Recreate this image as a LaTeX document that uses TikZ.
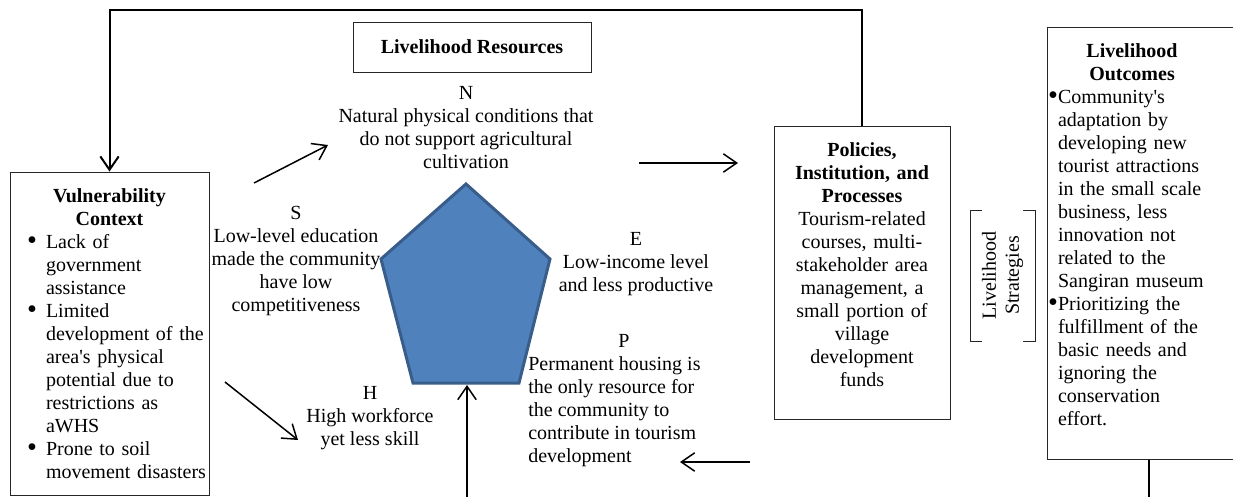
\documentclass[tikz,border=0pt]{standalone}
\usepackage{fontspec}
\setmainfont{Liberation Serif}
\usetikzlibrary{arrows.meta}

\definecolor{pentFill}{RGB}{79,129,189}
\definecolor{pentLine}{RGB}{56,93,138}

\newlength{\itemHang}
\newlength{\itemPos}
\newcommand{\bitem}{\par\noindent\hangindent=\itemHang\hangafter=1%
  \hbox to\itemHang{\hskip\itemPos\raisebox{-0.6pt}{\fontsize{17}{13.8}\selectfont\textbullet}\hss}}
\newcommand{\bottomgap}[1]{\par\vspace*{#1}\nointerlineskip\hbox{}}
\setlength{\parindent}{0pt}

\begin{document}
\begin{tikzpicture}
[x=0.6pt,y=-0.6pt,
  every node/.style={font=\fontsize{12}{13.8}\selectfont,inner sep=0pt},%
  boxDecorate/.style={draw=black!85,line width=0.6pt},%
  textDecorate/.style={align=center},%
  arrowDecorate/.style={-{Straight Barb[length=8pt,width=11pt]},line width=0.9pt},%
  lineDecorate/.style={-,line width=1.2pt},%
  pentDecorate/.style={fill=pentFill,draw=pentLine,line width=1.8pt,line join=miter}]
\useasboundingbox (0,0) rectangle (1233,497);
\clip (0,0) rectangle (1233,497);
%% coordinates for arrows and the pentagon
\foreach \name/\x/\y in {
  sA/254/183, sB/328/145, nA/639/163, nB/738/163,
  vA/225/382, vB/298/440, pA/750/462, pB/680/462,
  hubIn/467/497, pentBot/467/385, loopTop/109.5/10,
  pTop/466/184, pRight/550/259, pBotR/519/383, pBotL/413/383, pLeft/381/259}
{
  \coordinate (\name) at (\x,\y);
}
%% boxes
\node (resources) at (472,47) [boxDecorate,minimum width=142.8pt,minimum height=30pt]
  {\bfseries Livelihood Resources};
\node (vuln) at (109.5,333.5) [boxDecorate,minimum width=119.4pt,minimum height=193.8pt,
  text width=117.6pt,align=left,
  execute at begin node={\setlength{\itemHang}{20.7pt}\setlength{\itemPos}{9.3pt}}]
  {{\centering\bfseries Vulnerability\\Context\par}
   \bitem Lack of\newline government\newline assistance
   \bitem Limited\newline development of the\newline area\textquotesingle s physical\newline
     potential due to\newline restrictions as\newline aWHS
   \bitem Prone to soil\newline movement disasters\par};
\node (policies) at (862,272.5) [boxDecorate,minimum width=105.6pt,minimum height=175.8pt,
  text width=103.2pt,textDecorate]
  {\textbf{Policies,}\\\textbf{Institution, and}\\\textbf{Processes}\\Tourism-related\\
   courses, multi-\\stakeholder area\\management, a\\small portion of\\village\\
   development\\funds\bottomgap{9pt}};
\node (strategies) at (1002.5,275.5) [boxDecorate,minimum width=39pt,minimum height=78.6pt] {};
\node (stratText) at (strategies.center) [rotate=90,fill=white,minimum width=90pt,textDecorate]
  {Livelihood\\Strategies};
\node (outcomes) at (1149,243) [boxDecorate,minimum width=122.4pt,minimum height=259.2pt,
  text width=120pt,align=left,
  execute at begin node={\setlength{\itemHang}{5.4pt}\setlength{\itemPos}{-0.6pt}}]
  {\makebox[99.6pt]{\bfseries Livelihood}\par
   \makebox[99.6pt]{\bfseries Outcomes}
   \bitem Community\textquotesingle s\newline adaptation by\newline developing new\newline
     tourist attractions\newline in the small scale\newline business, less\newline
     innovation not\newline related to the\newline Sangiran museum
   \bitem Prioritizing the\newline fulfillment of the\newline basic needs and\newline
     ignoring the\newline conservation\newline effort.\bottomgap{9.6pt}};
%% livelihood resources texts
\node (nText) at (466,128) [textDecorate]
  {N\\Natural physical conditions that\\do not support agricultural\\cultivation};
\node (sText) at (296,261) [textDecorate]
  {S\\Low-level education\\made the community\\have low\\competitiveness};
\node (eText) at (636,264) [textDecorate] {E\\Low-income level\\and less productive};
\node (hText) at (370,418) [textDecorate] {H\\High workforce\\yet less skill};
\node (pText) at (528,401) [anchor=west,align=left]
  {\hspace*{54pt}P\\Permanent housing is\\the only resource for\\the community to\\
   contribute in tourism\\development};
%% pentagon
\draw[pentDecorate] (pTop) -- (pRight) -- (pBotR) -- (pBotL) -- (pLeft) -- cycle;
%% arrows
\foreach \startnode/\endnode in {sA/sB, nA/nB, vA/vB, pA/pB, hubIn/pentBot}
{
  \draw[arrowDecorate] (\startnode) -- (\endnode);
};
\draw[arrowDecorate,line width=1.2pt] (policies.north) |- (loopTop) -- (vuln.north);
\draw[lineDecorate] (outcomes.south) -- (outcomes.south |- hubIn);
\end{tikzpicture}
\end{document}
